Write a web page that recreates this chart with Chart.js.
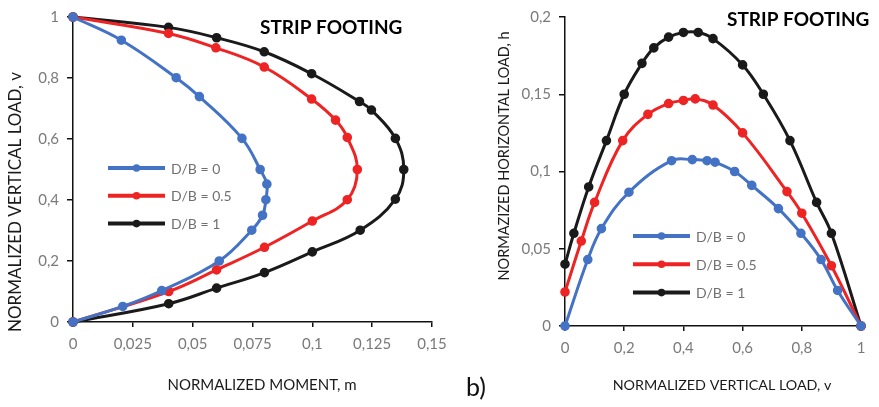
<!DOCTYPE html>
<html>
<head>
<meta charset="utf-8">
<script src="https://cdn.jsdelivr.net/npm/chart.js@4.4.0/dist/chart.umd.min.js"></script>
<style>
  body{margin:0;background:#fff;width:879px;height:407px;position:relative;overflow:hidden;font-family:Lato,sans-serif;}
  #leftWrap{position:absolute;left:0;top:0;width:470px;height:407px;}
  #rightWrap{position:absolute;left:470px;top:0;width:409px;height:407px;}
  #label{position:absolute;left:466px;top:374px;font-size:25px;line-height:25px;color:#111;}
</style>
</head>
<body>
<div id="leftWrap"><canvas id="leftChart"></canvas></div>
<div id="rightWrap"><canvas id="rightChart"></canvas></div>
<div id="label">b)</div>
<script>
// Series labels
const seriesNames=['D/B = 0','D/B = 0.5','D/B = 1'];
const seriesColors=['#4472c4','#ee2424','#1a1a1a'];

// Left chart: normalized moment m (x) vs normalized vertical load v (y)
const mDB0=[0,0.0208,0.0371,0.0611,0.0747,0.0792,0.0806,0.081,0.0782,0.0706,0.0528,0.0431,0.0202,0];
const vDB0=[0,0.051,0.103,0.2,0.301,0.35,0.401,0.452,0.5,0.602,0.739,0.801,0.924,1];
const mDB05=[0,0.04,0.06,0.08,0.1,0.1146,0.1188,0.1146,0.1097,0.0997,0.0799,0.0597,0.0399,0];
const vDB05=[0,0.1,0.171,0.245,0.331,0.401,0.5,0.605,0.662,0.731,0.836,0.899,0.946,1];
const mDB1=[0,0.04,0.06,0.08,0.1,0.12,0.1347,0.1382,0.1347,0.1247,0.1197,0.0997,0.0799,0.06,0.0399,0];
const vDB1=[0,0.06,0.111,0.162,0.23,0.301,0.403,0.5,0.602,0.695,0.723,0.814,0.886,0.932,0.966,1];

// Right chart: normalized vertical load v (x) vs normalized horizontal load h (y)
const hvDB0=[0,0.077,0.123,0.216,0.36,0.43,0.48,0.507,0.573,0.631,0.721,0.797,0.865,0.921,1];
const hDB0=[0,0.043,0.063,0.0866,0.107,0.1077,0.107,0.106,0.1,0.091,0.076,0.06,0.043,0.023,0];
const hvDB05=[0,0.055,0.1,0.195,0.28,0.35,0.4,0.44,0.5,0.6,0.75,0.8,0.9,1];
const hDB05=[0.022,0.055,0.08,0.12,0.137,0.144,0.146,0.147,0.143,0.125,0.087,0.073,0.039,0];
const hvDB1=[0,0.03,0.08,0.14,0.2,0.26,0.3,0.35,0.4,0.45,0.5,0.6,0.67,0.76,0.85,0.9,1];
const hDB1=[0.04,0.06,0.09,0.12,0.15,0.17,0.18,0.187,0.19,0.19,0.186,0.169,0.15,0.12,0.08,0.06,0];

const pairs=(xs,ys)=>xs.map((x,i)=>({x,y:ys[i]}));
const fmt=v=>String(+v.toFixed(3)).replace('.',',');

function makeDatasets(list){
  return list.map((pts,i)=>({
    label:seriesNames[i],
    data:pts,
    borderColor:seriesColors[i],
    backgroundColor:seriesColors[i],
    borderWidth:3,
    pointRadius:3.3,
    pointHoverRadius:3.3,
    showLine:true,
    tension:0.4,
    clip:false
  }));
}

// Text drawn on top: heading, axis titles and the legend
const overlayText={
  id:'overlayText',
  afterDraw(chart,args,o){
    const ctx=chart.ctx;
    ctx.save();
    ctx.textAlign='left';
    ctx.textBaseline='middle';
    ctx.font='bold 19px Lato';
    ctx.fillStyle='#000';
    ctx.fillText('STRIP FOOTING',o.titleX,o.titleY);

    // axis titles
    ctx.fillStyle='#1a1a1a';
    ctx.textAlign='center';
    ctx.font=o.xTitleSize+'px Lato';
    ctx.fillText(o.xTitle,o.xTitleX,o.xTitleY);
    ctx.save();
    ctx.translate(o.yTitleX,o.yTitleY);
    ctx.rotate(-Math.PI/2);
    ctx.font=o.yTitleSize+'px Lato';
    ctx.fillText(o.yTitle,0,0);
    ctx.restore();

    ctx.textAlign='left';
    chart.data.datasets.forEach((ds,i)=>{
      const y=o.legendY+i*o.legendGap;
      ctx.strokeStyle=ds.borderColor;
      ctx.lineWidth=4;
      ctx.beginPath();
      ctx.moveTo(o.legendX,y);
      ctx.lineTo(o.legendX+57,y);
      ctx.stroke();
      ctx.fillStyle=ds.borderColor;
      ctx.beginPath();
      ctx.arc(o.legendX+28.5,y,3.8,0,Math.PI*2);
      ctx.fill();
      ctx.font='14px Lato';
      ctx.fillStyle='#707070';
      ctx.fillText(ds.label,o.legendX+63,y+1);
    });
    ctx.restore();
  }
};

function axis(min,max,step,fitSize,horizontal){
  return {
    type:'linear',min,max,
    ticks:{stepSize:step,callback:fmt,color:'#7a7a7a',font:{family:'Lato',size:15},padding:8},
    grid:{display:true,drawOnChartArea:false,drawTicks:true,tickLength:horizontal?5:6,color:'#111',lineWidth:1.5},
    border:{display:true,color:'#111',width:1.5},
    afterFit(scale){ if(horizontal) scale.height=fitSize; else scale.width=fitSize; }
  };
}

new Chart(document.getElementById('leftChart'),{
  type:'scatter',
  data:{datasets:makeDatasets([pairs(mDB0,vDB0),pairs(mDB05,vDB05),pairs(mDB1,vDB1)])},
  options:{
    responsive:true,maintainAspectRatio:false,animation:false,
    layout:{padding:{left:0,top:15,right:38,bottom:0}},
    plugins:{legend:{display:false},tooltip:{enabled:false},
      overlayText:{titleX:260,titleY:28,legendX:108,legendY:168,legendGap:27.8,
        xTitle:'NORMALIZED MOMENT, m',xTitleX:262,xTitleY:385,xTitleSize:15,
        yTitle:'NORMALIZED VERTICAL LOAD, v',yTitleX:15.5,yTitleY:202,yTitleSize:17}},
    scales:{
      x:axis(0,0.15,0.025,85,true),
      y:axis(0,1,0.2,73,false)
    }
  },
  plugins:[overlayText]
});

new Chart(document.getElementById('rightChart'),{
  type:'scatter',
  data:{datasets:makeDatasets([pairs(hvDB0,hDB0),pairs(hvDB05,hDB05),pairs(hvDB1,hDB1)])},
  options:{
    responsive:true,maintainAspectRatio:false,animation:false,
    layout:{padding:{left:0,top:16,right:18,bottom:0}},
    plugins:{legend:{display:false},tooltip:{enabled:false},
      overlayText:{titleX:257,titleY:19.5,legendX:163,legendY:236,legendGap:28.3,
        xTitle:'NORMALIZED VERTICAL LOAD, v',xTitleX:252,xTitleY:385,xTitleSize:14.3,
        yTitle:'NORMAZIZED HORIZONTAL LOAD, h',yTitleX:34,yTitleY:156,yTitleSize:14.5}},
    scales:{
      x:axis(0,1,0.2,81,true),
      y:axis(0,0.2,0.05,95,false)
    }
  },
  plugins:[overlayText]
});
</script>
</body>
</html>
